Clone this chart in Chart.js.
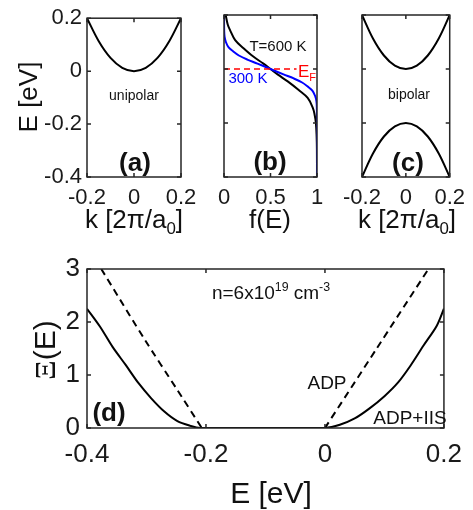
<!DOCTYPE html>
<html><head><meta charset="utf-8">
<script src="https://cdn.jsdelivr.net/npm/chart.js@4"></script>
<style>
html,body{margin:0;padding:0;background:#fff;}
#wrap{position:relative;width:473px;height:510px;overflow:hidden;font-family:"Liberation Sans",Arial,Helvetica,sans-serif;color:#111;}
canvas{position:absolute;left:0;top:0;}
.t{position:absolute;white-space:nowrap;line-height:1;transform:translate(-50%,-50%);}
.r{transform:translate(-50%,-50%) rotate(-90deg);}
sub,sup{font-size:0.65em;line-height:0;}
.b{font-weight:bold;}
</style></head><body><div id="wrap">
<canvas id="ca" width="473" height="510"></canvas>
<canvas id="cb" width="473" height="510"></canvas>
<canvas id="cc" width="473" height="510"></canvas>
<canvas id="cd" width="473" height="510"></canvas>

<div class="t r" style="left:28px;top:97px;font-size:26px;">E [eV]</div>
<div class="t" style="left:134px;top:219px;font-size:26px;">k [2π/a<sub>0</sub>]</div>
<div class="t" style="left:270px;top:219px;font-size:26px;">f(E)</div>
<div class="t" style="left:407px;top:219px;font-size:26px;">k [2π/a<sub>0</sub>]</div>
<div class="t" style="left:271px;top:493px;font-size:30px;">E [eV]</div>
<div class="t r" style="left:45px;top:350px;font-size:30px;"><span style="font-family:'Liberation Serif','DejaVu Serif',serif;">Ξ</span>(E)</div>

<div class="t" style="left:134px;top:95px;font-size:14px;">unipolar</div>
<div class="t b" style="left:135px;top:162px;font-size:26px;">(a)</div>
<div class="t" style="left:278px;top:45px;font-size:15px;">T=600 K</div>
<div class="t" style="left:248px;top:77px;font-size:15px;color:#0000ff;">300 K</div>
<div class="t" style="left:307px;top:71px;font-size:17px;color:#ff0000;">E<sub>F</sub></div>
<div class="t b" style="left:270px;top:161px;font-size:26px;">(b)</div>
<div class="t" style="left:409px;top:94px;font-size:14px;">bipolar</div>
<div class="t b" style="left:408px;top:162px;font-size:26px;">(c)</div>
<div class="t" style="left:271px;top:292px;font-size:19px;">n=6x10<sup>19</sup> cm<sup>-3</sup></div>
<div class="t" style="left:327px;top:382px;font-size:19px;">ADP</div>
<div class="t" style="left:410px;top:417px;font-size:19px;">ADP+IIS</div>
<div class="t b" style="left:109px;top:412px;font-size:26px;">(d)</div>
</div>
<script>
// ---------- tick labels ----------
const kTicks = [-0.2, 0, 0.2];
const eTicksTop = [-0.4, -0.2, 0, 0.2];
const fTicks = [0, 0.5, 1];
const eTicksD = [-0.4, -0.2, 0, 0.2];
const xiTicks = [0, 1, 2, 3];

// ---------- (a) unipolar band ----------
const bandK = [-0.2, -0.15, -0.1, -0.05, 0, 0.05, 0.1, 0.15, 0.2];
const uniE = [0.2, 0.113, 0.05, 0.0125, 0, 0.0125, 0.05, 0.113, 0.2];

// ---------- (c) bipolar bands ----------
const bipUpperE = [0.2, 0.113, 0.05, 0.0125, 0, 0.0125, 0.05, 0.113, 0.2];
const bipLowerE = [-0.4, -0.313, -0.25, -0.2125, -0.2, -0.2125, -0.25, -0.313, -0.4];

// ---------- (b) Fermi functions ----------
const f600 = [0.018, 0.04, 0.065, 0.12, 0.21, 0.315, 0.42, 0.5, 0.58, 0.685, 0.8, 0.9, 0.955, 0.972, 0.988, 0.996, 0.999, 1];
const e600 = [0.2, 0.165, 0.144, 0.107, 0.077, 0.046, 0.021, 0, -0.021, -0.046, -0.077, -0.107, -0.144, -0.165, -0.2, -0.25, -0.3, -0.4];
const f300 = [0, 0.002, 0.006, 0.02, 0.05, 0.1, 0.16, 0.25, 0.36, 0.5, 0.64, 0.75, 0.84, 0.9, 0.95, 0.98, 0.994, 0.998, 1, 1];
const e300 = [0.2, 0.14, 0.12, 0.1, 0.08, 0.065, 0.05, 0.035, 0.02, 0, -0.02, -0.035, -0.05, -0.065, -0.08, -0.1, -0.12, -0.14, -0.2, -0.4];
const efF = [0, 0.78];
const efE = [0, 0];

// ---------- (d) Xi(E) ----------
const adpLeftE = [-0.376, -0.302, -0.25, -0.207];
const adpLeftXi = [3, 1.65, 0.75, 0];
const adpRightE = [0, 0.087, 0.174];
const adpRightXi = [0, 1.5, 3];
const totE = [-0.4, -0.378, -0.357, -0.335, -0.313, -0.292, -0.27, -0.248, -0.226, -0.21, -0.1, 0, 0.025, 0.05, 0.075, 0.1, 0.123, 0.144, 0.166, 0.188, 0.2];
const totXi = [2.25, 1.91, 1.53, 1.19, 0.84, 0.56, 0.31, 0.13, 0.04, 0, 0, 0, 0.06, 0.18, 0.37, 0.6, 0.86, 1.18, 1.56, 1.93, 2.25];

const zip = (xs, ys) => xs.map((x, i) => ({x, y: ys[i]}));
const FONT = '"Liberation Sans", Arial, Helvetica, sans-serif';

const frame = {
  id: 'frame',
  afterDatasetsDraw(chart) {
    const {ctx, chartArea: a, scales: {x, y}} = chart;
    ctx.save();
    ctx.strokeStyle = '#262626';
    ctx.lineWidth = 1.5;
    ctx.strokeRect(a.left, a.top, a.right - a.left, a.bottom - a.top);
    ctx.beginPath();
    const L = 4;
    x.ticks.forEach(t => {
      const p = x.getPixelForValue(t.value);
      ctx.moveTo(p, a.bottom); ctx.lineTo(p, a.bottom - L);
      ctx.moveTo(p, a.top); ctx.lineTo(p, a.top + L);
    });
    y.ticks.forEach(t => {
      const p = y.getPixelForValue(t.value);
      ctx.moveTo(a.left, p); ctx.lineTo(a.left + L, p);
      ctx.moveTo(a.right, p); ctx.lineTo(a.right - L, p);
    });
    ctx.stroke();
    ctx.restore();
  }
};

function axis(min, max, ticks, size, show, fitFn, pad) {
  return {
    type: 'linear', min, max,
    afterBuildTicks: s => { s.ticks = ticks.map(v => ({value: v})); },
    afterFit: fitFn,
    grid: {display: false, drawTicks: false},
    border: {display: false},
    ticks: {display: show, autoSkip: false, maxRotation: 0, padding: pad,
      font: {family: FONT, size}, color: '#1a1a1a', callback: v => String(v)}
  };
}

function panel(id, area, datasets, xs, ys) {
  const yW = 70, xH = 55;
  new Chart(document.getElementById(id), {
    type: 'line',
    data: {datasets},
    options: {
      responsive: false, animation: false, devicePixelRatio: 1, events: [],
      layout: {padding: {left: area.l - yW, top: area.t, right: 473 - area.r, bottom: 510 - area.b - xH}},
      plugins: {legend: {display: false}, tooltip: {enabled: false}},
      elements: {point: {radius: 0}},
      scales: {
        x: axis(xs.min, xs.max, xs.ticks, xs.size, true, s => { s.height = xH; }, xs.pad),
        y: axis(ys.min, ys.max, ys.ticks, ys.size, ys.show, s => { s.width = yW; }, ys.pad)
      }
    },
    plugins: [frame]
  });
}

const solid = (data, color) => ({data, borderColor: color, borderWidth: 2, tension: 0.35, fill: false, pointRadius: 0});

panel('ca', {l: 87, t: 15, r: 181, b: 177},
  [solid(zip(bandK, uniE), '#000')],
  {min: -0.2, max: 0.2, ticks: kTicks, size: 22, pad: 8},
  {min: -0.4, max: 0.2, ticks: eTicksTop, size: 22, show: true, pad: 5});

panel('cb', {l: 224, t: 15, r: 317, b: 177},
  [Object.assign(solid(zip(efF, efE), '#ff0000'), {borderDash: [6, 4], borderWidth: 1.5, tension: 0}),
   solid(zip(f300, e300), '#0000ff'),
   solid(zip(f600, e600), '#000')],
  {min: 0, max: 1, ticks: fTicks, size: 22, pad: 8},
  {min: -0.4, max: 0.2, ticks: eTicksTop, size: 22, show: false, pad: 5});

panel('cc', {l: 362, t: 15, r: 453, b: 177},
  [solid(zip(bandK, bipUpperE), '#000'), solid(zip(bandK, bipLowerE), '#000')],
  {min: -0.2, max: 0.2, ticks: kTicks, size: 22, pad: 8},
  {min: -0.4, max: 0.2, ticks: eTicksTop, size: 22, show: false, pad: 5});

panel('cd', {l: 87, t: 269, r: 454, b: 428},
  [Object.assign(solid(zip(adpLeftE, adpLeftXi), '#000'), {borderDash: [7, 5], tension: 0.2}),
   Object.assign(solid(zip(adpRightE, adpRightXi), '#000'), {borderDash: [7, 5], tension: 0.2}),
   Object.assign(solid(zip(totE, totXi), '#000'), {tension: 0.3})],
  {min: -0.4, max: 0.2, ticks: eTicksD, size: 26, pad: 11},
  {min: 0, max: 3, ticks: xiTicks, size: 26, show: true, pad: 7});
</script>
</body></html>
